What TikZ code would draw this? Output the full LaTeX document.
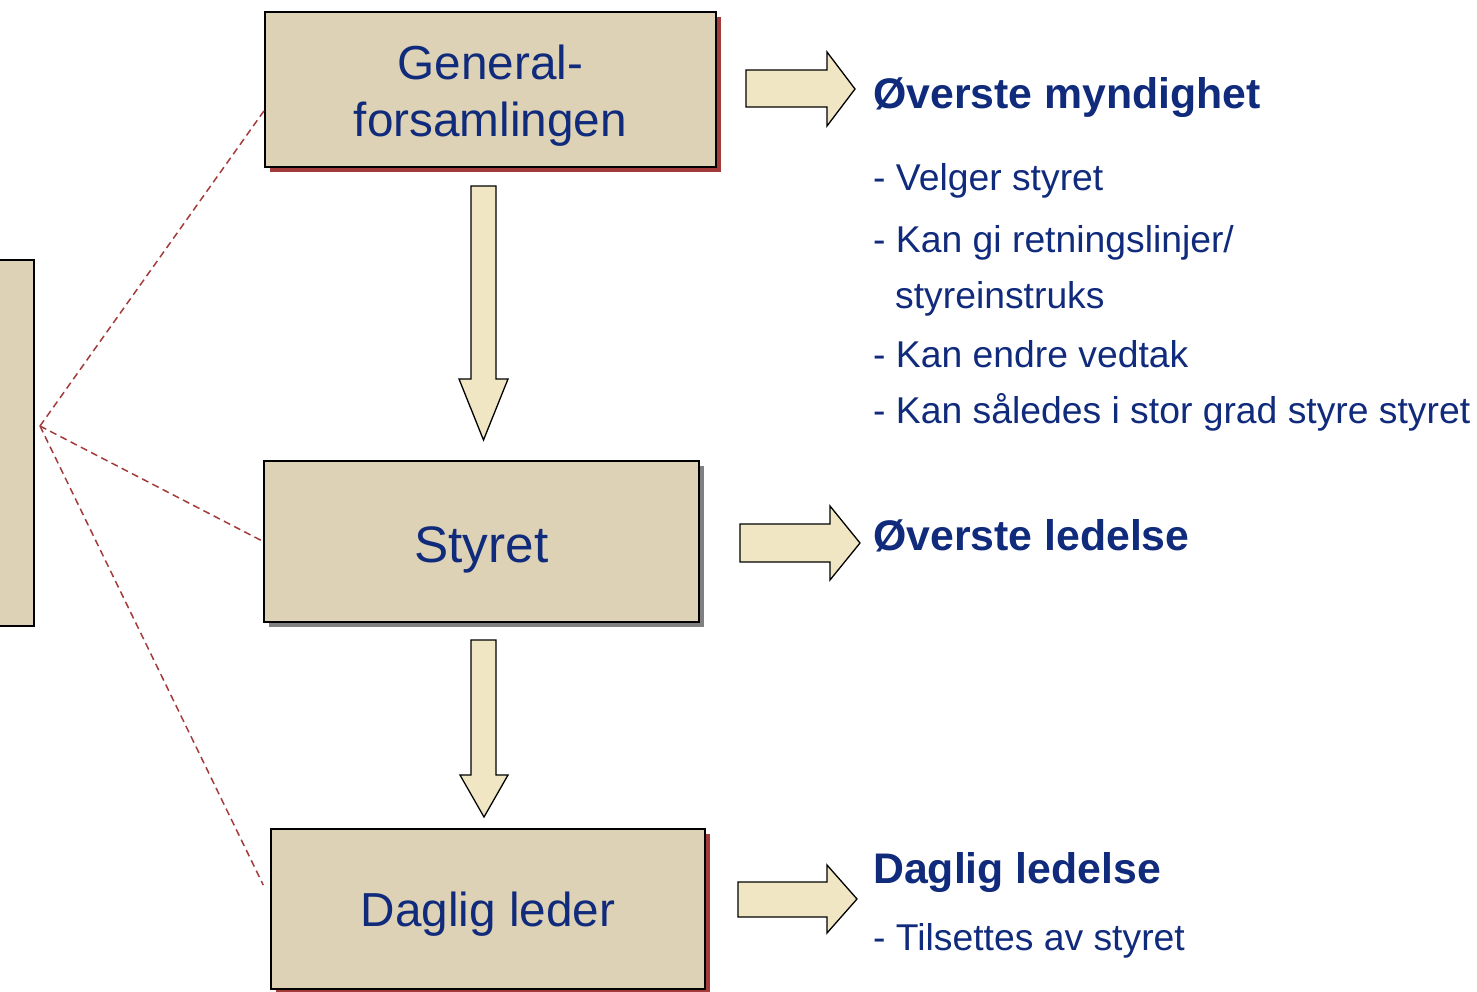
\documentclass[tikz,border=0pt]{standalone}
\usepackage{fontspec}
\setmainfont{Liberation Sans}
\usetikzlibrary{shadows,calc}
\definecolor{navy}{RGB}{16,42,124}
\definecolor{boxfill}{RGB}{221,210,181}
\definecolor{arrowfill}{RGB}{240,230,195}
\definecolor{shadowred}{RGB}{163,59,59}
\definecolor{shadowgray}{RGB}{128,128,128}
\definecolor{dashred}{RGB}{163,59,59}
\begin{document}
\begin{tikzpicture}[x=1pt,y=-1pt,
  orgbox/.style={rectangle, draw=black, line width=1.5pt, fill=boxfill, text=navy, inner sep=0pt, align=center},
  redshadow/.style={drop shadow={shadow xshift=5pt, shadow yshift=-5pt, fill=shadowred, opacity=1}},
  grayshadow/.style={drop shadow={shadow xshift=5pt, shadow yshift=-5pt, fill=shadowgray, opacity=1}},
  dashline/.style={draw=dashred, line width=1.5pt, dash pattern=on 7pt off 4.5pt},
  blockarrow/.style={draw=black, line width=1.3pt, fill=arrowfill, line join=miter},
  heading/.style={anchor=base west, inner sep=0pt, text=navy, font=\bfseries\fontsize{42.8}{50}\selectfont},
  itemtext/.style={anchor=base west, inner sep=0pt, text=navy, font=\fontsize{37.3}{44}\selectfont}
]
\useasboundingbox (0,0) rectangle (1477,991);

% side box
\node[orgbox, minimum width=44pt, minimum height=366pt] (side) at (12,443) {};

% main boxes
\node[orgbox, redshadow, minimum width=451pt, minimum height=155pt,
      font=\fontsize{47.7}{57}\selectfont] (gf) at (490.5,89.5) {\rule{0pt}{46pt}General-\\forsamlingen};
\node[orgbox, grayshadow, minimum width=435pt, minimum height=161pt,
      font=\fontsize{51.3}{60}\selectfont, text height=42pt, text depth=0pt] (st) at (481.5,541.5) {Styret};
\node[orgbox, redshadow, minimum width=434pt, minimum height=160pt,
      font=\fontsize{47.7}{57}\selectfont, text height=35pt, text depth=0pt] (dl) at (488,909) {Daglig leder};

% dashed connectors
\coordinate (hub) at (40,426);
\coordinate (gfend) at ($(gf.west)+(0,21)$);
\coordinate (dlend) at ($(dl.west)+(-7,-24)$);
\draw[dashline] (hub) -- (gfend);
\draw[dashline] (hub) -- (st.west);
\draw[dashline] (hub) -- (dlend);

% down block arrows
\draw[blockarrow] (471,186) -- (496,186) -- (496,379) -- (508,379) -- (483.5,440) -- (459,379) -- (471,379) -- cycle;
\draw[blockarrow] (471,640) -- (496,640) -- (496,775) -- (508,775) -- (484,817) -- (460,775) -- (471,775) -- cycle;

% right block arrows
\draw[blockarrow] (746,70) -- (827,70) -- (827,52) -- (855,89) -- (827,126) -- (827,107) -- (746,107) -- cycle;
\draw[blockarrow] (740,524) -- (830,524) -- (830,506) -- (860,543) -- (830,580) -- (830,562) -- (740,562) -- cycle;
\draw[blockarrow] (738,882) -- (827,882) -- (827,865) -- (857,899) -- (827,933) -- (827,917) -- (738,917) -- cycle;

% texts
\node[heading] (h1) at (873,108) {Øverste myndighet};
\node[itemtext] (i1) at (873,190) {- Velger styret};
\node[itemtext] (i2) at (873,252) {- Kan gi retningslinjer/};
\node[itemtext] (i3) at (895,308) {styreinstruks};
\node[itemtext] (i4) at (873,367) {- Kan endre vedtak};
\node[itemtext] (i5) at (873,423) {- Kan således i stor grad styre styret};
\node[heading] (h2) at (873,550) {Øverste ledelse};
\node[heading] (h3) at (873,883) {Daglig ledelse};
\node[itemtext] (i6) at (873,950) {- Tilsettes av styret};
\end{tikzpicture}
\end{document}
